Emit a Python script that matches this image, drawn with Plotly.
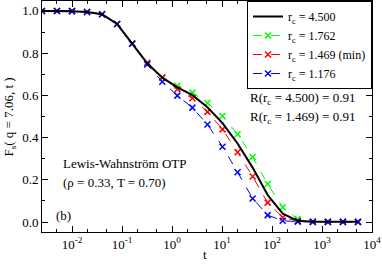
import plotly.graph_objects as go

t = [0.0025 * 2 ** n for n in range(22)]

f_45 = [1.0, 1.0, 0.999, 0.995, 0.984, 0.938, 0.845, 0.752, 0.684, 0.638, 0.601, 0.544,
        0.469, 0.372, 0.258, 0.128, 0.040, 0.006, 0.002, 0.001, 0.001, 0.001]
f_1762 = [1.0, 1.0, 0.999, 0.995, 0.984, 0.938, 0.845, 0.752, 0.686, 0.645, 0.613, 0.564,
          0.502, 0.416, 0.308, 0.180, 0.070, 0.014, 0.003, 0.001, 0.001, 0.001]
f_1469 = [1.0, 1.0, 0.999, 0.995, 0.984, 0.938, 0.845, 0.755, 0.684, 0.629, 0.586, 0.522,
          0.439, 0.331, 0.216, 0.092, 0.022, 0.005, 0.001, 0.001, 0.001, 0.001]
f_1176 = [1.0, 1.0, 0.999, 0.995, 0.984, 0.938, 0.845, 0.746, 0.665, 0.599, 0.542, 0.462,
          0.357, 0.236, 0.112, 0.033, 0.006, 0.002, 0.001, 0.001, 0.001, 0.001]

names = ["r<sub>c</sub> = 4.500", "r<sub>c</sub> = 1.762", "r<sub>c</sub> = 1.469 (min)", "r<sub>c</sub> = 1.176"]
xticks = [0.01, 0.1, 1, 10, 100, 1000, 10000]
xticktext = ["10<sup>-2</sup>", "10<sup>-1</sup>", "10<sup>0</sup>", "10<sup>1</sup>",
             "10<sup>2</sup>", "10<sup>3</sup>", "10<sup>4</sup>"]

FONT = "Liberation Serif"
fig = go.Figure()
for vals, name, col, rank in [(f_1762, names[1], "#00ff00", 2), (f_1469, names[2], "#ff0000", 3),
                              (f_1176, names[3], "#0000ff", 4)]:
    fig.add_trace(go.Scatter(x=t, y=vals, name=name, mode="lines+markers", legendrank=rank,
                             line=dict(color=col, width=1, dash="dash"),
                             marker=dict(symbol="x-thin", size=6, line=dict(color=col, width=1.5))))
fig.add_trace(go.Scatter(x=t, y=f_45, name=names[0], mode="lines", legendrank=1,
                         line=dict(color="black", width=2)))

def ann(x, y, text, xanchor="left", yanchor="middle", **kw):
    fig.add_annotation(x=x, y=y, xref="paper", yref="paper", xanchor=xanchor, yanchor=yanchor,
                       showarrow=False, text=text, font=dict(size=13), **kw)

ann(0.955, 0.579, "R(r<sub>c</sub> = 4.500) = 0.91", xanchor="right")
ann(0.955, 0.497, "R(r<sub>c</sub> = 1.469) = 0.91", xanchor="right")
ann(0.058, 0.296, "Lewis-Wahnström OTP")
ann(0.058, 0.213, "(ρ = 0.33, T = 0.70)")
ann(0.035, 0.072, "(b)")
ann(0.495, -0.1385, "t", xanchor="center", yanchor="bottom")
ann(-0.097, 0.5, "F<sub>s</sub>( q = 7.06, t )", xanchor="center", textangle=-90)

fig.update_layout(
    width=382, height=264, margin=dict(l=42, r=10, t=1, b=32),
    paper_bgcolor="white", plot_bgcolor="white",
    font=dict(family=FONT, size=13, color="black"),
    showlegend=True,
    legend=dict(x=1, y=1, xanchor="right", yanchor="top", bordercolor="black", borderwidth=1,
                bgcolor="white", font=dict(size=12), tracegroupgap=0, itemwidth=30),
)
fig.update_xaxes(type="log", range=[-2.6, 4], tickvals=xticks, ticktext=xticktext, automargin=False,
                 ticks="inside", ticklen=6, tickcolor="black", showline=True, linecolor="black",
                 linewidth=1, mirror="ticks", showgrid=False, zeroline=False,
                 minor=dict(ticks="inside", ticklen=3, tickcolor="black", showgrid=False))
fig.update_yaxes(range=[-0.047, 1.047], tickvals=[0, 0.2, 0.4, 0.6, 0.8, 1.0], automargin=False,
                 ticktext=["0.0", "0.2", "0.4", "0.6", "0.8", "1.0"],
                 ticks="inside", ticklen=6, tickcolor="black", showline=True, linecolor="black",
                 linewidth=1, mirror="ticks", showgrid=False, zeroline=False,
                 minor=dict(ticks="inside", ticklen=3, dtick=0.1, tickcolor="black", showgrid=False))

fig.write_html("out.html", config={"displayModeBar": False},
               post_script="document.body.style.margin='0';document.body.style.padding='0';")
